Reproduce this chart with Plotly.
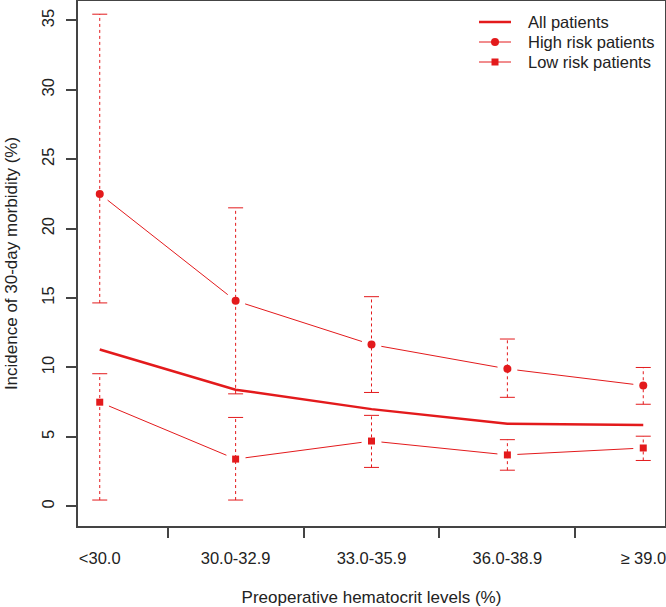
import math
import plotly.graph_objects as go

categories = ["<30.0", "30.0-32.9", "33.0-35.9", "36.0-38.9", "\u2265 39.0"]
all_patients = [11.3, 8.4, 7.0, 5.95, 5.85]
high_risk = [22.5, 14.8, 11.65, 9.9, 8.7]
high_lo = [14.65, 8.1, 8.2, 7.85, 7.35]
high_hi = [35.45, 21.5, 15.1, 12.05, 10.0]
low_risk = [7.5, 3.4, 4.7, 3.7, 4.2]
low_lo = [0.45, 0.45, 2.8, 2.6, 3.3]
low_hi = [9.55, 6.4, 6.55, 4.8, 5.05]
y_ticks = [0, 5, 10, 15, 20, 25, 30, 35]
legend_labels = ["All patients", "High risk patients", "Low risk patients"]

RED = "#E31A1C"
FONT = "Liberation Sans, Arial, sans-serif"
W, H = 666, 607
ML, MR, MT, MB = 78, 1, 1, 81
PW, PH = W - ML - MR, H - MT - MB
xr = [0.84, 5.16]
yr = [-1.42, 36.4]
sx = PW / (xr[1] - xr[0])
sy = PH / (yr[1] - yr[0])

xpos = list(range(1, len(categories) + 1))

fig = go.Figure()


def gapped(xs, ys, gap=10):
    gx, gy = [], []
    for i in range(len(xs) - 1):
        dx = (xs[i + 1] - xs[i]) * sx
        dy = (ys[i + 1] - ys[i]) * sy
        L = math.hypot(dx, dy)
        f = gap / L
        gx += [xs[i] + (xs[i + 1] - xs[i]) * f, xs[i + 1] - (xs[i + 1] - xs[i]) * f, None]
        gy += [ys[i] + (ys[i + 1] - ys[i]) * f, ys[i + 1] - (ys[i + 1] - ys[i]) * f, None]
    return gx, gy


def errbars(xs, lo, hi, cap=7.5):
    vx, vy, cx, cy = [], [], [], []
    hw = cap / sx
    for x, a, b in zip(xs, lo, hi):
        vx += [x, x, None]
        vy += [a, b, None]
        cx += [x - hw, x + hw, None, x - hw, x + hw, None]
        cy += [a, a, None, b, b, None]
    fig.add_trace(go.Scatter(x=vx, y=vy, mode="lines", line=dict(color=RED, width=1, dash="dot"),
                             showlegend=False, hoverinfo="skip"))
    fig.add_trace(go.Scatter(x=cx, y=cy, mode="lines", line=dict(color=RED, width=1),
                             showlegend=False, hoverinfo="skip"))


errbars(xpos, high_lo, high_hi)
errbars(xpos, low_lo, low_hi)

fig.add_trace(go.Scatter(x=xpos, y=all_patients, mode="lines", line=dict(color=RED, width=2.5),
                         name=legend_labels[0], showlegend=False))

gx, gy = gapped(xpos, high_risk)
fig.add_trace(go.Scatter(x=gx, y=gy, mode="lines", line=dict(color=RED, width=1), showlegend=False))
fig.add_trace(go.Scatter(x=xpos, y=high_risk, mode="markers", marker=dict(color=RED, size=8, symbol="circle"),
                         name=legend_labels[1], showlegend=False))

gx, gy = gapped(xpos, low_risk)
fig.add_trace(go.Scatter(x=gx, y=gy, mode="lines", line=dict(color=RED, width=1), showlegend=False))
fig.add_trace(go.Scatter(x=xpos, y=low_risk, mode="markers", marker=dict(color=RED, size=7, symbol="square"),
                         name=legend_labels[2], showlegend=False))


def px_x(p):
    return (p - ML) / PW


def px_y(p):
    return 1 - (p - MT) / PH


rows = [22, 42, 62]
line_w = [2.5, 1, 1]
shapes = []
annotations = []
for i, (lab, ry) in enumerate(zip(legend_labels, rows)):
    shapes.append(dict(type="line", xref="paper", yref="paper", x0=px_x(479), x1=px_x(511),
                       y0=px_y(ry), y1=px_y(ry), line=dict(color=RED, width=line_w[i])))
    if i > 0:
        sz = 8 if i == 1 else 7
        shapes.append(dict(type="circle" if i == 1 else "rect", xref="paper", yref="paper",
                           xsizemode="pixel", ysizemode="pixel",
                           xanchor=px_x(495), yanchor=px_y(ry),
                           x0=-sz / 2, x1=sz / 2, y0=-sz / 2, y1=sz / 2,
                           fillcolor=RED, line=dict(color=RED, width=0)))
    annotations.append(dict(text=lab, xref="paper", yref="paper", x=px_x(526), y=px_y(ry),
                            xanchor="left", yanchor="middle", showarrow=False,
                            font=dict(size=16.5, family=FONT, color="#222")))

fig.update_layout(
    width=W, height=H,
    margin=dict(l=ML, r=MR, t=MT, b=MB),
    paper_bgcolor="white", plot_bgcolor="white",
    font=dict(family=FONT, size=16, color="#222"),
    showlegend=False,
    shapes=shapes,
    annotations=annotations,
    xaxis=dict(range=xr, tickmode="array", tickvals=xpos, ticktext=categories,
               ticks="", showgrid=False, zeroline=False, showline=True, mirror=True,
               linecolor="#444", linewidth=1.5, ticklabelstandoff=16, ticklabeloverflow="allow",
               tickfont=dict(size=16.5, family=FONT, color="#222"),
               minor=dict(tickmode="array", tickvals=[1.5, 2.5, 3.5, 4.5], ticks="outside",
                          ticklen=10, tickcolor="#444", tickwidth=1.5, showgrid=False),
               title=dict(text="Preoperative hematocrit levels (%)", standoff=28,
                          font=dict(size=17, family=FONT, color="#222")),
               automargin=False),
    yaxis=dict(range=yr, tickmode="array", tickvals=y_ticks, ticks="outside", ticklen=10,
               tickcolor="#444", tickwidth=1.5, tickangle=-90, showgrid=False, zeroline=False,
               showline=True, mirror=True, linecolor="#444", linewidth=1.5,
               ticklabelstandoff=6,
               tickfont=dict(size=16.5, family=FONT, color="#222"),
               title=dict(text="Incidence of 30-day morbidity (%)", standoff=17,
                          font=dict(size=17, family=FONT, color="#222")),
               automargin=False),
)

fig.write_html("out.html", config={"displayModeBar": False},
               post_script="document.body.style.margin='0';document.body.style.padding='0';")
